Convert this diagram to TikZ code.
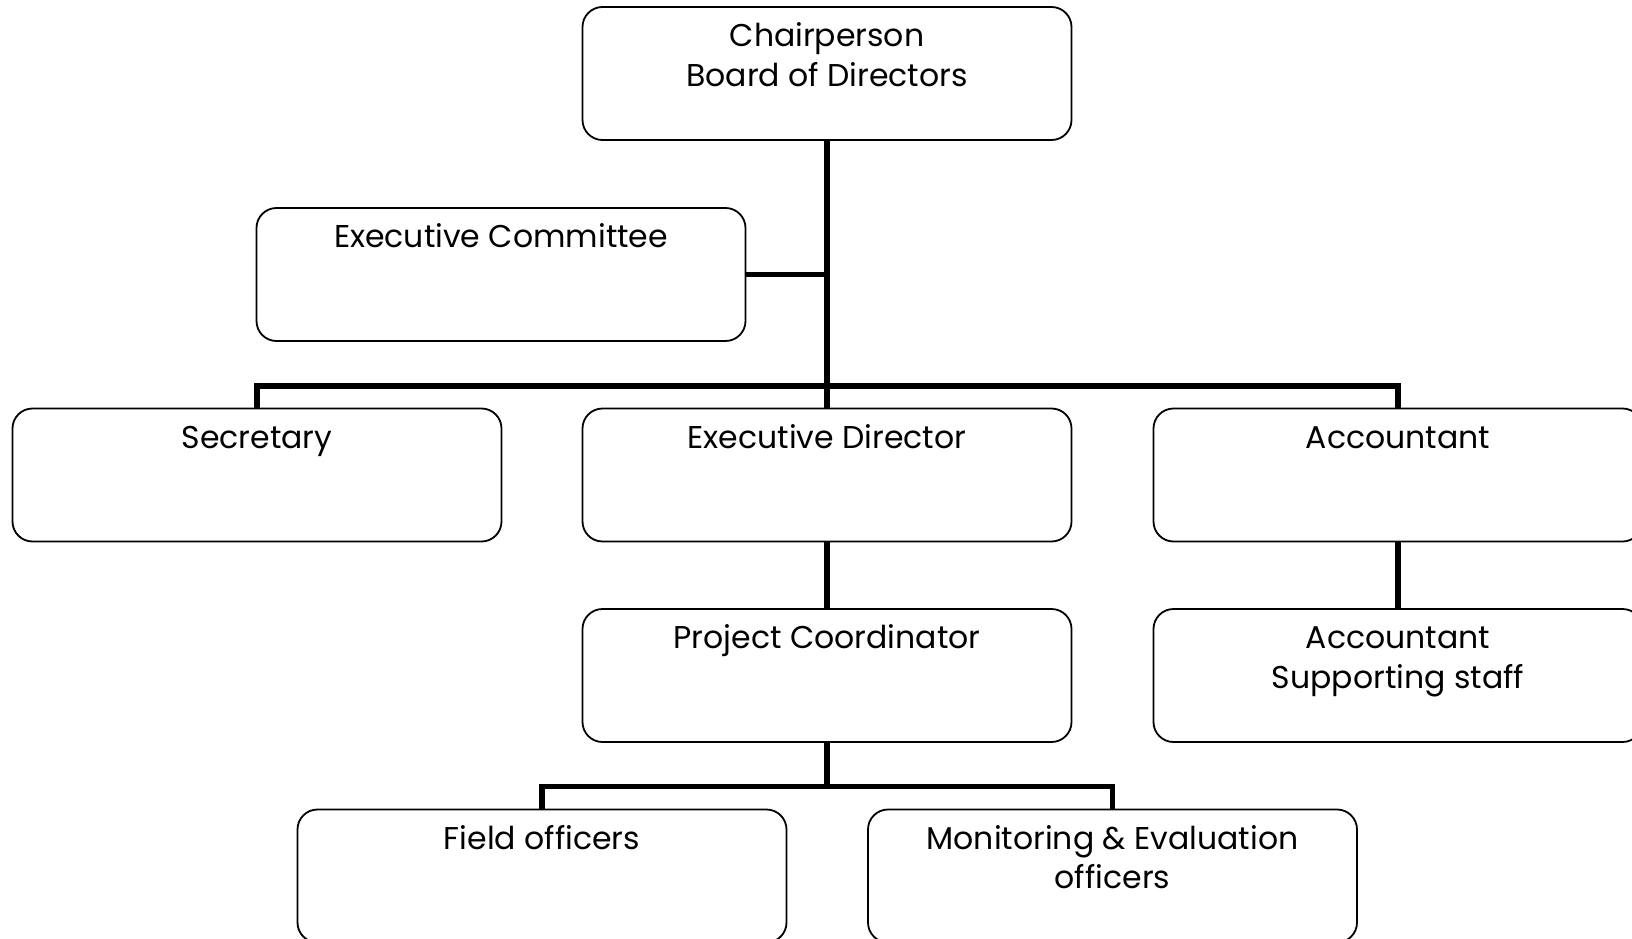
\documentclass[tikz,border=0pt]{standalone}
\usepackage{fontspec}
\setmainfont{Poppins}
\begin{document}
\begin{tikzpicture}[x=1pt,y=-1pt,
  box/.style={draw, line width=1.8pt, rounded corners=20pt, minimum width=489pt, minimum height=133pt, inner sep=0pt},
  lbl/.style={anchor=base, yshift=-40.5pt, align=center, font=\fontsize{31.5}{39.5}\selectfont, inner sep=0pt},
  lbltwo/.style={lbl, yshift=-39.5pt},
  conn/.style={line width=5.5pt}]
\useasboundingbox (0,0) rectangle (1632,939);
\node[box, label={[lbltwo]north:Chairperson\\Board of Directors}] (chair) at (827,73.5) {};
\node[box, label={[lbl]north:Executive Committee}] (ec) at (501,274.5) {};
\node[box, label={[lbl]north:Secretary}] (sec) at (257,475) {};
\node[box, label={[lbl]north:Executive Director}] (ed) at (827,475) {};
\node[box, label={[lbl]north:Accountant}] (acc) at (1398,475) {};
\node[box, label={[lbl]north:Project Coordinator}] (pc) at (827,675.5) {};
\node[box, label={[lbltwo]north:Accountant\\Supporting staff}] (sup) at (1398,675.5) {};
\node[box, label={[lbl]north:Field officers}] (fo) at (542,876) {};
\node[box, label={[lbltwo]north:Monitoring \& Evaluation\\officers}] (me) at (1112.5,876) {};
\coordinate (bus) at (827,386);
\coordinate (bus2) at (827,786.5);
\draw[conn] (chair.south) -- (ed.north);
\draw[conn] (ec.east) -- (ec.east -| chair.south);
\draw[conn] (sec.north) |- (bus) -| (acc.north);
\draw[conn] (ed.south) -- (pc.north);
\draw[conn] (acc.south) -- (sup.north);
\draw[conn] (pc.south) -- (bus2);
\draw[conn] (fo.north) |- (bus2) -| (me.north);
\end{tikzpicture}
\end{document}
